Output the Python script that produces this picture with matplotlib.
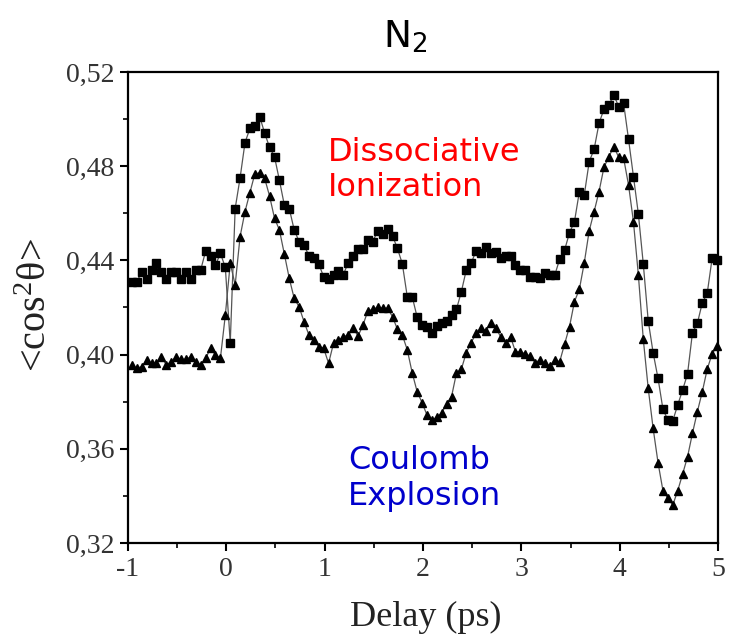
import numpy as np
import matplotlib
matplotlib.use("Agg")
import matplotlib.pyplot as plt
from matplotlib.ticker import MultipleLocator, FuncFormatter

# ---- data ----
delay_start = -0.96
delay_step = 0.05

dissociative = [
    0.431, 0.431, 0.435, 0.432, 0.436, 0.439, 0.435, 0.432, 0.435, 0.435,
    0.432, 0.435, 0.432, 0.436, 0.436, 0.444, 0.442, 0.438, 0.443, 0.437,
    0.405,
    0.462, 0.475, 0.490, 0.496, 0.497, 0.501, 0.494, 0.488, 0.484, 0.474,
    0.4635, 0.462, 0.453, 0.448, 0.4465, 0.442, 0.441, 0.4385, 0.433,
    0.432, 0.434, 0.4356, 0.434, 0.439, 0.442, 0.4447, 0.445, 0.4487, 0.448,
    0.4526, 0.451, 0.4532, 0.4504, 0.4451, 0.4385, 0.4246, 0.4246, 0.416, 0.4126,
    0.4116, 0.409,
    0.412, 0.4133, 0.4144, 0.4168, 0.4192, 0.4267, 0.4359, 0.4388, 0.4441, 0.4433,
    0.4458, 0.443, 0.4436, 0.4409, 0.4419, 0.4419, 0.438, 0.4359, 0.4359, 0.4331,
    0.4328, 0.4324, 0.4345, 0.4338, 0.4338, 0.4405, 0.4444, 0.4518, 0.4564, 0.4692,
    0.4678, 0.4819, 0.4872, 0.4982, 0.5042, 0.506, 0.5102, 0.5053, 0.5067, 0.4914,
    0.4756,
    0.4597, 0.4385, 0.4144, 0.4008, 0.3899, 0.3768, 0.3722, 0.3719, 0.3786, 0.385,
    0.3918, 0.4093, 0.4133, 0.422, 0.426, 0.4409, 0.4402,
]

coulomb = [
    0.3956, 0.3942, 0.3949, 0.3977, 0.3963, 0.3963, 0.3991, 0.3956, 0.397, 0.3991,
    0.398, 0.398, 0.3991, 0.397, 0.3956, 0.3984, 0.4027, 0.3998, 0.3984, 0.4168,
    0.4388, 0.4296, 0.4501, 0.4607, 0.4688, 0.4767, 0.4772, 0.4748, 0.4673, 0.4579,
    0.4529, 0.4427, 0.4324, 0.4239, 0.4203, 0.414, 0.4083, 0.4062, 0.4034, 0.4027,
    0.3963, 0.4048,
    0.406, 0.4076, 0.4083, 0.4112, 0.4079, 0.4126, 0.4186, 0.4192, 0.4201, 0.4197,
    0.4197, 0.4161, 0.4107, 0.4083, 0.402, 0.3923, 0.3843, 0.3796, 0.3744, 0.3722,
    0.3734, 0.3753, 0.379, 0.3821, 0.3921, 0.3938, 0.4008, 0.4051, 0.409, 0.4112,
    0.4102, 0.4135, 0.4112, 0.4076, 0.4051, 0.4076, 0.4012, 0.4012, 0.4003, 0.3994,
    0.3966,
    0.3977, 0.3963, 0.3952, 0.3977, 0.397, 0.4045, 0.4119, 0.4225, 0.4277, 0.439,
    0.4526, 0.4607, 0.4692, 0.4795, 0.484, 0.4883, 0.4838, 0.4834,
    0.472, 0.4564, 0.4338, 0.4065, 0.3857, 0.3687, 0.3541, 0.3422, 0.339, 0.3361,
    0.3422, 0.3493, 0.3566, 0.3666, 0.3758, 0.3842, 0.3938, 0.4003, 0.4037,
]

x_ticks = [-1, 0, 1, 2, 3, 4, 5]
y_ticks = [0.32, 0.36, 0.40, 0.44, 0.48, 0.52]

delay_s = delay_start + delay_step * np.arange(len(dissociative))
delay_t = delay_start + delay_step * np.arange(len(coulomb))

plt.rcParams['mathtext.fontset'] = 'custom'
plt.rcParams['mathtext.rm'] = 'Liberation Serif'
plt.rcParams['mathtext.it'] = 'Liberation Serif:italic'
plt.rcParams['mathtext.sf'] = 'DejaVu Sans'

fig = plt.figure(figsize=(7.30, 6.42), dpi=100)
ax = fig.add_axes([0.1753, 0.1542, 0.8083, 0.7337])

line_c = '#555555'
ax.plot(delay_s, dissociative, '-', color=line_c, lw=0.9, zorder=2)
ax.plot(delay_t, coulomb, '-', color=line_c, lw=0.9, zorder=2)
ax.plot(delay_s, dissociative, 's', color='black', ms=5.4, mec='black', zorder=3, clip_on=False)
ax.plot(delay_t, coulomb, '^', color='black', ms=6.4, mec='black', zorder=3, clip_on=False)

ax.set_xlim(-1, 5)
ax.set_ylim(0.32, 0.52)
ax.set_xticks(x_ticks)
ax.set_yticks(y_ticks)
ax.xaxis.set_minor_locator(MultipleLocator(0.5))
ax.yaxis.set_minor_locator(MultipleLocator(0.02))
ax.xaxis.set_major_formatter(FuncFormatter(lambda v, p: '%d' % round(v)))
ax.yaxis.set_major_formatter(FuncFormatter(lambda v, p: ('%.2f' % v).replace('.', ',')))

for lab in ax.get_xticklabels() + ax.get_yticklabels():
    lab.set_fontfamily('Liberation Serif')
    lab.set_fontsize(20)
    lab.set_color('#333333')

ax.tick_params(which='major', direction='out', length=6, width=1.5, pad=4)
ax.tick_params(which='minor', direction='out', length=3.5, width=1.2)
for sp in ax.spines.values():
    sp.set_linewidth(1.6)

ax.set_xlabel('Delay (ps)', fontfamily='Liberation Serif', fontsize=26, color='#222222')
ax.xaxis.set_label_coords(0.505, -0.122)
ax.set_ylabel(r'<cos$^{2}$θ>', fontfamily='Liberation Serif', fontsize=29, color='#222222')
ax.yaxis.set_label_coords(-0.124, 0.505)

fig.text(0.555, 0.942, r'N$_{\mathsf{2}}$', ha='center', va='center',
         fontfamily='DejaVu Sans', fontsize=27, color='black')

ax.text(1.03, 0.4925, 'Dissociative\nIonization', color='#ff0000', fontfamily='DejaVu Sans',
        fontsize=23, ha='left', va='top', linespacing=1.18)
ax.text(1.24, 0.3615, 'Coulomb\nExplosion', color='#0000cc', fontfamily='DejaVu Sans',
        fontsize=23, ha='left', va='top', linespacing=1.18)

fig.savefig('out.png', dpi=100)
